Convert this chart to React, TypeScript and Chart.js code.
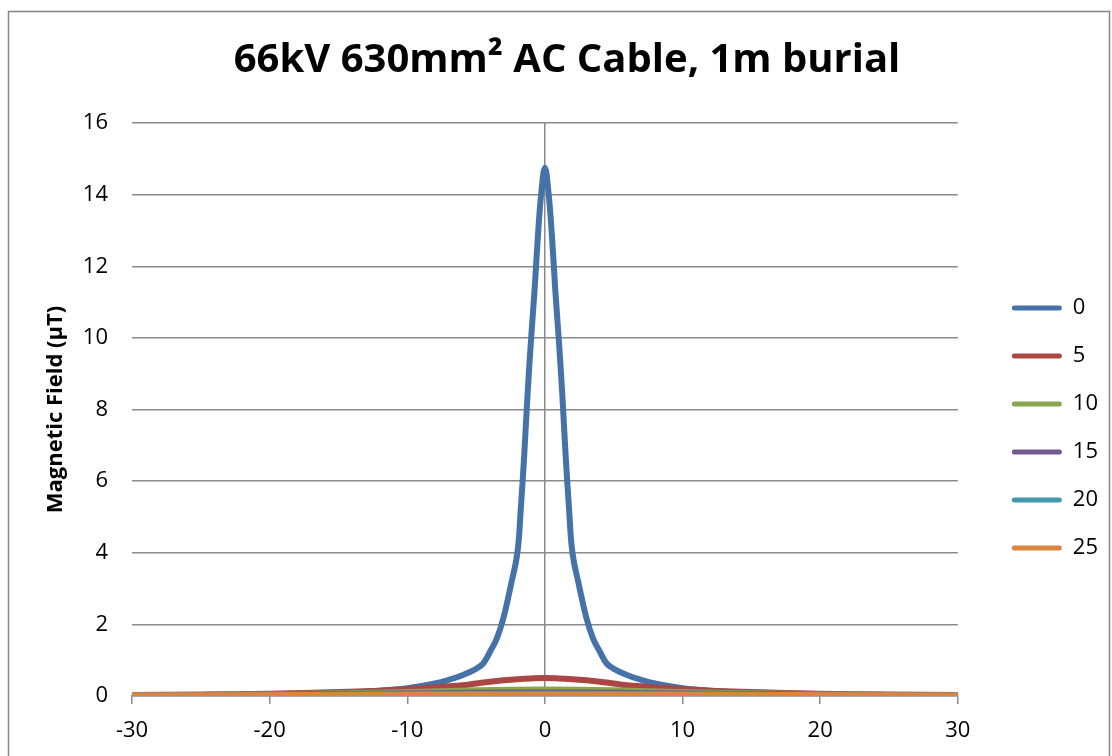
import React, { useEffect, useRef } from "react";
import { Chart, registerables } from "chart.js";

Chart.register(...registerables);

const TITLE = "66kV 630mm² AC Cable, 1m burial";
const Y_TITLE = "Magnetic Field (μT)";
const SERIES_NAMES = ["0", "5", "10", "15", "20", "25"];
const COLORS = ["#4572A7", "#AA4643", "#89A54E", "#71588F", "#4198AF", "#DB843D"];

// Series "0"
const X0 = [-30, -25, -20, -15, -12, -10, -8, -7, -6, -5, -4.5, -4, -3.5, -3, -2.5, -2, -1.75, -1.5, -1.25, -1, -0.75, -0.5, -0.25, 0, 0.25, 0.5, 0.75, 1, 1.25, 1.5, 1.75, 2, 2.5, 3, 3.5, 4, 4.5, 5, 6, 7, 8, 10, 12, 15, 20, 25, 30];
const Y0 = [0.02, 0.03, 0.05, 0.1, 0.15, 0.22, 0.35, 0.45, 0.58, 0.76, 0.9, 1.23, 1.6, 2.2, 3.05, 4.0, 5.25, 6.75, 8.5, 10.0, 11.35, 12.9, 14.1, 14.75, 14.1, 12.9, 11.35, 10.0, 8.5, 6.75, 5.25, 4.0, 3.05, 2.2, 1.6, 1.23, 0.9, 0.76, 0.58, 0.45, 0.35, 0.22, 0.15, 0.1, 0.05, 0.03, 0.02];
// Series "5"
const X5 = [-30, -25, -20, -15, -12, -10, -8, -6, -5, -4, -3, -2, -1, 0, 1, 2, 3, 4, 5, 6, 8, 10, 12, 15, 20, 25, 30];
const Y5 = [0.03, 0.04, 0.06, 0.11, 0.15, 0.19, 0.24, 0.3, 0.35, 0.4, 0.44, 0.47, 0.49, 0.5, 0.49, 0.47, 0.44, 0.4, 0.35, 0.3, 0.24, 0.19, 0.15, 0.11, 0.06, 0.04, 0.03];
// Series "10"
const X10 = [-30, -25, -20, -15, -10, -5, 0, 5, 10, 15, 20, 25, 30];
const Y10 = [0.02, 0.03, 0.05, 0.08, 0.11, 0.16, 0.18, 0.16, 0.11, 0.08, 0.05, 0.03, 0.02];
// Series "15"
const X15 = [-30, -20, -10, 0, 10, 20, 30];
const Y15 = [0.02, 0.04, 0.07, 0.1, 0.07, 0.04, 0.02];
// Series "20"
const X20 = [-30, -20, -10, 0, 10, 20, 30];
const Y20 = [0.015, 0.03, 0.05, 0.06, 0.05, 0.03, 0.015];
// Series "25"
const X25 = [-30, -20, -10, 0, 10, 20, 30];
const Y25 = [0.015, 0.025, 0.035, 0.04, 0.035, 0.025, 0.015];

const XS = [X0, X5, X10, X15, X20, X25];
const YS = [Y0, Y5, Y10, Y15, Y20, Y25];

const X_MIN = -30;
const X_MAX = 30;
const X_STEP = 10;
const Y_MIN = 0;
const Y_MAX = 16;
const Y_STEP = 2;

const GRID = "#8a8a8a";
const FONT = "'Open Sans', 'DejaVu Sans', sans-serif";

const framePlugin = {
  id: "frame",
  beforeDraw(chart: any) {
    const ctx = chart.ctx;
    ctx.save();
    ctx.fillStyle = "#ffffff";
    ctx.fillRect(0, 0, chart.width, chart.height);
    ctx.strokeStyle = "#868686";
    ctx.lineWidth = 1.5;
    ctx.strokeRect(8.5, 11.5, 1101, 800);
    ctx.restore();
  },
  afterDraw(chart: any) {
    const ctx = chart.ctx;
    ctx.save();
    ctx.fillStyle = "#000";
    ctx.font = `bold 40px ${FONT}`;
    ctx.textAlign = "center";
    ctx.textBaseline = "middle";
    ctx.fillText(TITLE, 567, 61);
    ctx.restore();
  },
};

export default function App() {
  const ref = useRef<HTMLCanvasElement | null>(null);

  useEffect(() => {
    if (!ref.current) return;
    const datasets = SERIES_NAMES.map((name, i) => ({
      label: name,
      data: XS[i].map((x, j) => ({ x, y: YS[i][j] })),
      borderColor: COLORS[i],
      backgroundColor: COLORS[i],
      borderWidth: 6,
      pointRadius: 0,
      pointHoverRadius: 0,
      fill: false,
      tension: 0.4,
      order: SERIES_NAMES.length - 1 - i,
      xAxisID: "x",
      yAxisID: "y",
    }));

    const chart = new Chart(ref.current, {
      type: "line",
      data: { datasets },
      plugins: [framePlugin],
      options: {
        responsive: false,
        animation: false,
        devicePixelRatio: 1,
        layout: { padding: { left: 0, right: 4, top: 123, bottom: 0 } },
        plugins: {
          title: { display: false },
          legend: {
            display: true,
            position: "right",
            fullSize: false,
            align: "center",
            title: {
              display: true,
              text: " ",
              font: { size: 10, lineHeight: 1 },
              padding: { top: 27, bottom: 0 },
            },
            labels: {
              boxWidth: 50,
              boxHeight: 5,
              padding: 26,
              color: "#000",
              useBorderRadius: true,
              borderRadius: 2.5,
              font: { family: FONT, size: 22 },
              sort: (a: any, b: any) => a.datasetIndex - b.datasetIndex,
              generateLabels: (c: any) =>
                (Chart.defaults.plugins.legend.labels.generateLabels as any)(c).map((l: any) => ({
                  ...l,
                  lineWidth: 0,
                  fillStyle: COLORS[l.datasetIndex],
                })),
            },
          },
          tooltip: { enabled: false },
        },
        scales: {
          x: {
            type: "linear",
            min: X_MIN,
            max: X_MAX,
            afterFit: (s: any) => {
              s.height = 60;
            },
            ticks: {
              stepSize: X_STEP,
              color: "#000",
              padding: 14,
              font: { family: FONT, size: 22 },
            },
            grid: {
              color: (c: any) => (c.tick && c.tick.value === 0 ? GRID : "rgba(0,0,0,0)"),
              tickColor: GRID,
              tickLength: 8,
              lineWidth: 1.5,
              drawTicks: true,
            },
            border: { display: true, color: GRID, width: 1.5 },
          },
          y: {
            type: "linear",
            position: "left",
            min: Y_MIN,
            max: Y_MAX,
            afterFit: (s: any) => {
              s.width = 132;
            },
            ticks: {
              stepSize: Y_STEP,
              color: "#000",
              padding: 24,
              font: { family: FONT, size: 22 },
            },
            grid: { color: GRID, lineWidth: 1.5, drawTicks: false },
            border: { display: false },
            title: {
              display: true,
              text: Y_TITLE,
              color: "#000",
              font: { family: FONT, size: 22, weight: "bold" },
              padding: { top: 43, bottom: 0 },
            },
          },
          y2: {
            type: "linear",
            position: "right",
            display: true,
            afterFit: (s: any) => {
              s.width = 28;
            },
            ticks: { display: false },
            grid: { display: false, drawTicks: false },
            border: { display: false },
          },
        },
      },
    } as any);
    return () => chart.destroy();
  }, []);

  return (
    <div style={{ position: "fixed", left: 0, top: 0, width: 1112, height: 756, background: "#fff" }}>
      <canvas ref={ref} width={1112} height={756} style={{ display: "block", width: 1112, height: 756 }} />
    </div>
  );
}
